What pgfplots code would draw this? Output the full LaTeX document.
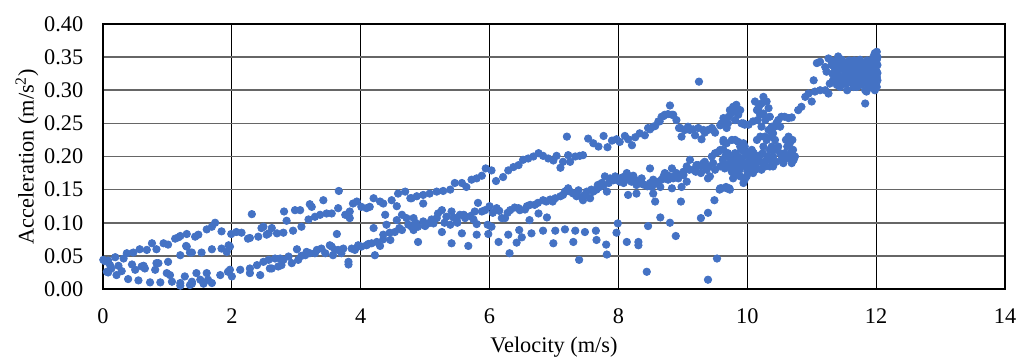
\documentclass[border=0pt]{standalone}
\usepackage{fontspec}
\setmainfont{Liberation Serif}
\usepackage{pgfplots}
\usepackage{pgfplotstable}
\pgfplotsset{compat=1.18}
\definecolor{xlblue}{HTML}{4472C4}
\pgfplotstableread{
x y
0.03 0.042
0.08 0.043
0.005 0.044
0.19 0.048
0.32 0.046
0.37 0.054
0.47 0.055
0.57 0.060
0.68 0.059
0.76 0.069
0.83 0.060
0.94 0.069
1.01 0.067
1.12 0.076
1.17 0.078
1.20 0.080
1.30 0.083
1.43 0.079
1.48 0.082
1.61 0.090
1.69 0.094
1.74 0.100
1.84 0.087
1.99 0.083
2.07 0.086
2.15 0.085
2.25 0.076
2.31 0.113
0.06 0.026
0.11 0.036
0.13 0.031
0.24 0.035
0.29 0.027
0.45 0.037
0.50 0.029
0.60 0.034
0.63 0.035
0.65 0.031
0.83 0.039
0.86 0.039
0.81 0.029
0.99 0.024
1.04 0.021
1.01 0.041
1.27 0.019
1.20 0.051
1.29 0.065
1.30 0.064
1.35 0.055
1.38 0.055
1.53 0.055
1.69 0.060
1.84 0.061
1.92 0.056
1.95 0.066
1.97 0.064
0.08 0.025
0.21 0.021
0.39 0.015
0.55 0.013
0.73 0.010
0.89 0.010
1.07 0.011
1.20 0.009
1.20 0.005
1.38 0.011
1.35 0.006
1.38 0.008
1.45 0.024
1.51 0.014
1.56 0.008
1.61 0.024
1.63 0.014
1.69 0.009
1.82 0.021
1.97 0.029
1.94 0.026
2.00 0.019
2.13 0.029
2.28 0.024
2.28 0.031
2.39 0.036
2.44 0.021
2.49 0.041
2.57 0.044
2.59 0.031
2.62 0.031
2.67 0.046
2.72 0.034
2.75 0.046
2.77 0.036
2.80 0.044
2.88 0.049
2.93 0.039
3.01 0.060
3.03 0.044
3.08 0.050
3.14 0.051
3.16 0.056
3.21 0.054
3.29 0.054
3.32 0.059
3.39 0.061
3.45 0.054
3.52 0.066
3.55 0.064
3.57 0.051
3.60 0.059
3.65 0.059
3.70 0.054
3.73 0.061
3.81 0.037
3.81 0.041
3.86 0.061
3.91 0.059
3.96 0.066
4.01 0.064
4.09 0.066
4.12 0.068
4.17 0.069
4.22 0.051
4.25 0.071
4.30 0.065
4.35 0.082
4.35 0.075
4.40 0.097
4.45 0.085
4.46 0.074
4.53 0.086
4.56 0.104
4.60 0.092
4.64 0.089
4.71 0.107
4.74 0.097
4.79 0.094
4.85 0.100
5.00 0.095
5.10 0.105
5.30 0.100
5.50 0.100
5.60 0.112
5.75 0.105
6.05 0.115
6.15 0.118
6.28 0.115
6.45 0.122
6.58 0.125
6.75 0.130
6.88 0.132
6.98 0.132
2.28 0.077
2.41 0.079
2.46 0.092
2.49 0.094
2.54 0.082
2.57 0.084
2.62 0.092
2.70 0.084
2.80 0.085
2.81 0.117
2.85 0.103
2.95 0.088
2.98 0.119
3.06 0.119
3.08 0.094
3.19 0.105
3.21 0.128
3.24 0.124
3.29 0.109
3.37 0.112
3.42 0.134
3.47 0.114
3.55 0.114
3.63 0.083
3.65 0.122
3.66 0.148
3.76 0.112
3.83 0.117
3.83 0.107
3.88 0.129
3.94 0.132
4.01 0.124
4.09 0.122
4.14 0.124
4.20 0.137
4.20 0.092
4.30 0.132
4.35 0.129
4.38 0.112
4.48 0.134
4.56 0.125
4.58 0.144
4.64 0.112
4.69 0.147
4.77 0.137
4.82 0.107
4.79 0.137
4.87 0.140
4.97 0.129
4.97 0.142
5.07 0.144
5.18 0.147
5.28 0.148
5.39 0.150
5.46 0.160
5.57 0.160
5.64 0.154
5.72 0.165
5.80 0.167
5.88 0.171
5.94 0.182
6.03 0.179
6.10 0.163
6.21 0.169
6.29 0.179
6.37 0.184
6.45 0.187
6.52 0.195
6.60 0.197
6.68 0.200
6.76 0.205
6.83 0.201
6.91 0.197
6.99 0.194
7.04 0.201
7.10 0.183
7.14 0.192
7.20 0.230
7.22 0.202
4.82 0.089
4.89 0.094
4.97 0.102
5.05 0.099
5.13 0.099
5.18 0.107
5.20 0.114
5.26 0.119
5.26 0.086
5.33 0.109
5.39 0.097
5.41 0.117
5.44 0.108
5.49 0.104
5.54 0.112
5.57 0.084
5.62 0.107
5.70 0.110
5.77 0.117
5.80 0.098
5.82 0.130
5.88 0.117
5.93 0.119
5.97 0.097
6.00 0.125
6.03 0.094
6.11 0.122
6.19 0.107
6.24 0.107
6.32 0.119
6.39 0.123
6.47 0.119
6.55 0.120
6.62 0.104
6.63 0.127
6.70 0.127
6.76 0.114
6.83 0.134
6.89 0.108
6.94 0.135
7.02 0.137
7.10 0.140
7.14 0.142
7.17 0.147
7.22 0.152
4.89 0.071
5.41 0.069
5.67 0.065
5.80 0.082
5.98 0.083
6.14 0.071
6.29 0.082
6.31 0.054
6.42 0.070
6.46 0.089
6.50 0.078
6.65 0.084
6.83 0.088
6.99 0.069
7.02 0.088
7.17 0.090
7.30 0.071
7.33 0.088
7.39 0.044
7.48 0.086
7.65 0.088
7.66 0.074
7.81 0.067
7.82 0.052
7.99 0.099
7.97 0.085
8.13 0.071
8.31 0.071
8.31 0.066
8.44 0.026
8.46 0.095
8.65 0.108
8.80 0.100
8.89 0.080
8.57 0.132
8.97 0.132
9.28 0.107
9.39 0.014
9.39 0.115
9.49 0.134
9.53 0.046
9.25 0.313
9.57 0.150
9.67 0.154
9.72 0.152
7.25 0.192
7.33 0.200
7.40 0.201
7.45 0.202
7.53 0.227
7.61 0.220
7.69 0.215
7.77 0.231
7.83 0.214
7.90 0.224
7.97 0.226
8.02 0.222
8.10 0.231
8.15 0.226
8.21 0.217
8.26 0.229
8.33 0.235
8.41 0.232
8.46 0.243
8.49 0.241
8.54 0.245
8.57 0.246
8.62 0.253
8.64 0.253
8.67 0.260
8.70 0.261
8.72 0.263
8.77 0.264
8.80 0.277
8.83 0.263
8.85 0.263
8.90 0.255
8.94 0.243
8.96 0.243
8.98 0.230
9.03 0.240
9.08 0.245
9.11 0.240
9.16 0.241
9.19 0.232
9.24 0.243
9.29 0.226
9.32 0.240
9.34 0.236
9.39 0.240
9.45 0.243
9.47 0.240
9.50 0.236
9.58 0.247
9.63 0.222
9.63 0.258
9.68 0.243
9.65 0.255
9.71 0.260
9.73 0.270
9.78 0.275
9.83 0.278
9.89 0.270
9.86 0.263
9.81 0.255
9.75 0.265
9.80 0.268
9.70 0.250
9.85 0.270
9.60 0.250
9.91 0.250
9.94 0.250
9.96 0.248
10.02 0.248
10.09 0.253
10.12 0.283
10.15 0.270
10.20 0.263
10.22 0.280
10.25 0.290
10.30 0.283
10.33 0.273
10.35 0.260
10.38 0.245
10.40 0.235
10.45 0.250
10.48 0.255
10.51 0.245
10.43 0.225
10.30 0.225
10.25 0.215
10.20 0.230
10.15 0.225
10.35 0.210
10.40 0.200
10.48 0.215
10.53 0.260
10.58 0.260
10.64 0.258
10.69 0.259
10.64 0.230
10.66 0.220
10.71 0.210
10.74 0.200
10.69 0.190
10.61 0.197
10.56 0.190
10.51 0.205
10.45 0.192
10.27 0.230
10.33 0.240
10.37 0.230
10.42 0.245
10.28 0.255
10.25 0.265
10.18 0.275
10.22 0.245
10.16 0.255
10.62 0.215
10.68 0.205
10.72 0.195
10.58 0.205
10.54 0.198
10.66 0.200
10.70 0.225
10.60 0.225
7.20 0.149
7.25 0.147
7.30 0.144
7.35 0.140
7.38 0.149
7.43 0.139
7.45 0.134
7.48 0.142
7.51 0.147
7.56 0.137
7.58 0.150
7.61 0.147
7.66 0.150
7.68 0.157
7.71 0.154
7.74 0.160
7.77 0.157
7.79 0.170
7.82 0.147
7.85 0.160
7.87 0.167
7.92 0.164
7.95 0.170
7.97 0.165
8.02 0.162
8.05 0.168
8.08 0.160
8.10 0.170
8.12 0.165
8.13 0.175
8.15 0.142
8.18 0.167
8.20 0.162
8.23 0.171
8.26 0.165
8.28 0.157
8.28 0.144
8.30 0.160
8.34 0.162
8.36 0.167
8.38 0.158
8.41 0.157
8.45 0.155
8.49 0.182
8.49 0.160
8.52 0.154
8.54 0.144
8.54 0.165
8.59 0.160
8.62 0.162
8.65 0.154
8.67 0.165
8.70 0.170
8.72 0.175
8.75 0.172
8.77 0.165
8.80 0.170
8.83 0.182
8.83 0.152
8.85 0.167
8.88 0.171
8.90 0.175
8.93 0.167
8.98 0.154
9.01 0.177
9.01 0.172
9.06 0.162
9.06 0.185
9.10 0.180
9.11 0.195
9.16 0.180
9.20 0.177
9.21 0.187
9.24 0.187
9.28 0.175
9.29 0.185
9.32 0.190
9.34 0.192
9.37 0.180
9.39 0.167
9.40 0.185
9.42 0.170
9.45 0.200
9.47 0.190
9.50 0.180
9.50 0.205
9.55 0.207
9.58 0.152
9.58 0.210
9.63 0.210
9.63 0.190
9.68 0.187
9.73 0.190
9.78 0.195
9.81 0.205
9.86 0.200
9.91 0.187
9.96 0.215
10.02 0.205
10.07 0.195
10.12 0.180
9.99 0.170
9.94 0.160
9.63 0.225
9.68 0.220
9.76 0.225
9.81 0.225
9.86 0.222
9.89 0.215
9.94 0.220
9.96 0.207
9.99 0.202
10.04 0.200
10.09 0.197
10.15 0.195
10.20 0.202
10.25 0.190
10.30 0.195
10.35 0.185
10.40 0.185
9.58 0.185
9.65 0.182
9.71 0.185
9.76 0.177
9.81 0.175
9.86 0.185
9.91 0.187
9.99 0.190
10.04 0.182
10.09 0.175
10.15 0.182
10.22 0.180
9.78 0.167
9.89 0.170
9.96 0.165
9.60 0.152
9.68 0.152
9.73 0.150
10.07 0.210
9.91 0.210
9.62 0.195
9.66 0.200
9.70 0.205
9.74 0.198
9.79 0.185
9.84 0.192
9.88 0.180
9.92 0.197
9.97 0.185
10.00 0.178
10.03 0.192
10.06 0.187
10.10 0.205
10.13 0.190
10.17 0.200
10.21 0.192
10.24 0.205
10.28 0.185
10.32 0.200
10.36 0.195
10.38 0.215
10.42 0.210
10.79 0.270
10.84 0.275
10.90 0.290
10.95 0.295
11.00 0.283
11.05 0.298
11.13 0.300
11.21 0.300
11.26 0.295
11.03 0.315
11.08 0.341
11.13 0.343
11.21 0.335
11.23 0.328
11.26 0.348
11.28 0.310
11.31 0.338
11.36 0.343
11.41 0.351
11.47 0.346
11.33 0.315
11.39 0.308
11.44 0.321
11.49 0.331
11.54 0.341
11.57 0.326
11.62 0.313
11.65 0.335
11.70 0.305
11.72 0.321
11.75 0.346
11.77 0.331
11.80 0.310
11.83 0.300
11.85 0.326
11.88 0.341
11.91 0.315
11.93 0.333
11.96 0.351
11.98 0.356
12.01 0.346
12.02 0.326
12.00 0.310
11.98 0.300
11.85 0.298
11.83 0.280
11.93 0.321
11.96 0.335
11.97 0.305
12.01 0.358
12.02 0.338
11.91 0.305
11.54 0.310
11.59 0.331
11.67 0.323
11.72 0.310
11.77 0.315
11.85 0.335
11.44 0.305
11.36 0.326
11.40 0.330
11.50 0.320
11.52 0.335
11.60 0.340
11.62 0.322
11.68 0.315
11.70 0.335
11.75 0.325
11.78 0.340
11.80 0.320
11.82 0.330
11.87 0.315
11.90 0.330
11.92 0.340
11.95 0.325
11.97 0.315
11.99 0.340
12.00 0.330
12.01 0.320
11.98 0.345
12.02 0.350
11.94 0.308
11.88 0.305
11.65 0.305
11.45 0.315
11.55 0.300
11.35 0.335
11.30 0.345
11.42 0.340
11.58 0.345
11.32 0.325
11.38 0.318
11.46 0.335
11.48 0.310
11.53 0.325
11.56 0.315
11.61 0.330
11.64 0.318
11.66 0.345
11.69 0.328
11.73 0.338
11.76 0.308
11.79 0.328
11.81 0.340
11.84 0.318
11.86 0.345
11.89 0.322
11.92 0.312
11.95 0.345
11.97 0.330
12.00 0.352
12.02 0.315
11.99 0.325
12.01 0.305
}\datatable
\begin{document}
\fontsize{11.2}{13}\selectfont
\begin{tikzpicture}
\useasboundingbox (-51.5bp,-34.5bp) rectangle (463.5bp,144.5bp);
\begin{axis}[
  at={(0,0)}, anchor=south west,
  scale only axis, width=451bp, height=132.5bp,
  xmin=0, xmax=14, ymin=0, ymax=0.40,
  xtick={0,2,4,6,8,10,12,14},
  ytick={0,0.05,0.10,0.15,0.20,0.25,0.30,0.35,0.40},
  major tick length=0pt,
  grid=major,
  x grid style={black, line width=0.5bp},
  y grid style={black!60, line width=0.8bp},
  axis line style={black, line width=0.6bp},
  /pgf/number format/assume math mode=true,
  yticklabel style={/pgf/number format/.cd, fixed, fixed zerofill, precision=2, /tikz/.cd, xshift=-6bp},
  xticklabel style={yshift=-6bp},
  tick label style={font=\fontsize{11.2}{13}\selectfont},
  label style={font=\fontsize{11.2}{13}\selectfont},
  xlabel={Velocity (m/s)},
  ylabel={Acceleration (m/s\textsuperscript{2})},
  xlabel style={at={(axis description cs:0.5,-0.219)}, anchor=center},
  ylabel style={at={(axis description cs:-0.0843,0.5)}, anchor=center},
]
\addplot[only marks, mark=*, mark size=1.85bp, color=xlblue, mark options={draw=xlblue, fill=xlblue}] table[x=x, y=y] {\datatable};
\end{axis}
\end{tikzpicture}
\end{document}
